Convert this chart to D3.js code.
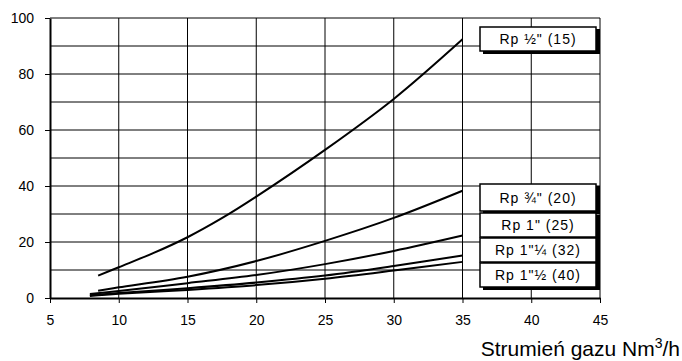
<!DOCTYPE html>
<html>
<head>
<meta charset="utf-8">
<script src="https://cdn.jsdelivr.net/npm/d3@7"></script>
<style>
  body { margin: 0; background: #fff; }
  text { font-family: "Liberation Sans", Arial, sans-serif; fill: #000; }
</style>
</head>
<body>
<div id="chart"></div>
<script>
// flow rate (Nm3/h) vs pressure drop, one curve per pipe size
const xTicks = [5, 10, 15, 20, 25, 30, 35, 40, 45];
const yTicks = [0, 20, 40, 60, 80, 100];
const flow15 = [8.5, 10, 12.5, 15, 17.5, 20, 25, 30, 35];
const dp15 = [8.0, 11.0, 16.0, 21.7, 28.5, 36.2, 52.9, 71.1, 92.4];
const flow20 = [8.5, 10, 15, 20, 25, 30, 35];
const dp20 = [2.6, 3.8, 7.6, 13.2, 20.4, 28.6, 38.3];
const flowLarge = [7.9, 10, 15, 20, 25, 30, 35];
const dp25 = [1.4, 2.5, 5.3, 8.2, 12.1, 16.8, 22.3];
const dp32 = [1.0, 1.8, 3.5, 5.5, 8.0, 11.4, 15.2];
const dp40 = [0.7, 1.5, 2.9, 4.6, 6.9, 9.8, 12.9];
const labels = ['Rp ½" (15)', 'Rp ¾" (20)', 'Rp 1" (25)', 'Rp 1"¼ (32)', 'Rp 1"½ (40)'];

const series = [
  { flow: flow15, dp: dp15 },
  { flow: flow20, dp: dp20 },
  { flow: flowLarge, dp: dp25 },
  { flow: flowLarge, dp: dp32 },
  { flow: flowLarge, dp: dp40 }
];

const W = 682, H = 361;
const svg = d3.select('#chart').append('svg').attr('width', W).attr('height', H);

const x = d3.scaleLinear().domain([5, 45]).range([50, 600]);
const y = d3.scaleLinear().domain([0, 100]).range([298, 18]);

// grid
const grid = svg.append('g');
d3.range(10, 46, 5).forEach(v => {
  grid.append('line').attr('x1', x(v)).attr('x2', x(v)).attr('y1', y(0)).attr('y2', y(100))
    .attr('stroke', '#000').attr('stroke-width', 1);
});
d3.range(10, 101, 10).forEach(v => {
  grid.append('line').attr('x1', x(5)).attr('x2', x(45)).attr('y1', y(v)).attr('y2', y(v))
    .attr('stroke', '#000').attr('stroke-width', 1);
});

// axes
const xAxis = svg.append('g').attr('transform', `translate(0,${y(0)})`)
  .call(d3.axisBottom(x).tickValues(xTicks).tickSize(5).tickPadding(12).tickSizeOuter(0));
const yAxis = svg.append('g').attr('transform', `translate(${x(5)},0)`)
  .call(d3.axisLeft(y).tickValues(yTicks).tickSize(5).tickPadding(11).tickSizeOuter(0));
[xAxis, yAxis].forEach(a => {
  a.select('.domain').attr('stroke', '#000').attr('stroke-width', 2);
  a.selectAll('.tick line').attr('stroke', '#000').attr('stroke-width', 1);
  a.selectAll('.tick text').style('font-size', '14px').style('font-family', '"Liberation Sans", Arial, sans-serif').attr('fill', '#000');
});

// curves
const line = d3.line().x(d => x(d[0])).y(d => y(d[1])).curve(d3.curveCatmullRom);
series.forEach(s => {
  svg.append('path').datum(s.flow.map((f, i) => [f, s.dp[i]]))
    .attr('d', line).attr('fill', 'none').attr('stroke', '#000').attr('stroke-width', 2);
});

// labels in boxes with shadow
const boxes = [
  { y0: 27, y1: 51 },
  { y0: 184, y1: 211 },
  { y0: 213, y1: 237 },
  { y0: 238, y1: 262 },
  { y0: 263, y1: 287 }
];
boxes.forEach((b, i) => {
  const g = svg.append('g');
  g.append('rect').attr('x', 483).attr('y', b.y0 + 2).attr('width', 117).attr('height', b.y1 - b.y0 + 1).attr('fill', '#000');
  g.append('rect').attr('x', 480).attr('y', b.y0).attr('width', 116).attr('height', b.y1 - b.y0)
    .attr('fill', '#fff').attr('stroke', '#000').attr('stroke-width', 1.5);
  g.append('text').attr('x', 538).attr('y', (b.y0 + b.y1) / 2 + 5).attr('text-anchor', 'middle')
    .style('font-size', '14px').style('letter-spacing', '1px').text(labels[i]);
});

// axis title
const title = svg.append('text').attr('x', 680).attr('y', 356).attr('text-anchor', 'end').style('font-size', '21px');
title.append('tspan').text('Strumień gazu Nm');
title.append('tspan').attr('dy', -8).style('font-size', '14px').text('3');
title.append('tspan').attr('dy', 8).text('/h');
</script>
</body>
</html>
